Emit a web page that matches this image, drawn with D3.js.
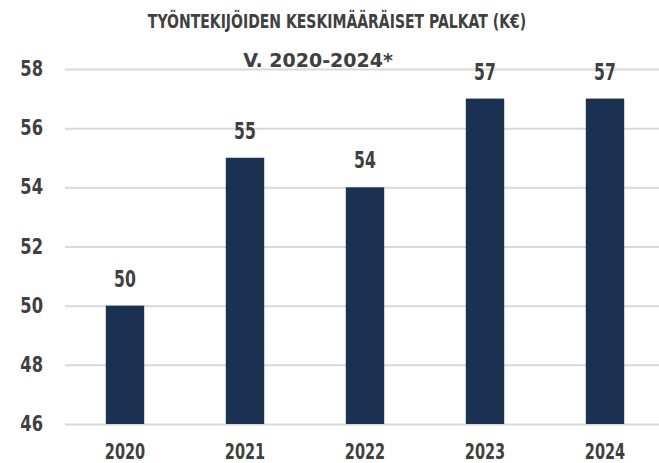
<!DOCTYPE html>
<html>
<head>
<meta charset="utf-8">
<script src="https://cdn.jsdelivr.net/npm/d3@7"></script>
<style>
  body { margin: 0; background: #fff; }
  text { font-family: "DejaVu Sans", sans-serif; font-weight: bold; fill: #404040; }
</style>
</head>
<body>
<div id="chart"></div>
<script>
const years = ['2020', '2021', '2022', '2023', '2024'];
const salaries = [50, 55, 54, 57, 57];
const yTicks = [46, 48, 50, 52, 54, 56, 58];
const titleLines = ['TYÖNTEKIJÖIDEN KESKIMÄÄRÄISET PALKAT (K€)', 'V. 2020-2024*'];

const width = 659, height = 463;
const barColor = '#1b3151',
    gridColor = '#d9d9d9';

const svg = d3.select('#chart')
    .append('svg')
    .attr('width', width)
    .attr('height', height);

const x = d3.scaleBand()
    .domain(years)
    .range([65, 665])
    .paddingInner(0.68)
    .paddingOuter(0.34);

const y = d3.scaleLinear()
    .domain([46, 58])
    .range([424, 69]);

// squeeze a label horizontally, the original uses a tall condensed face
function narrow(sel, k) {
    sel.each(function () {
        const len = this.getComputedTextLength();
        d3.select(this)
            .attr('textLength', len * k)
            .attr('lengthAdjust', 'spacingAndGlyphs');
    });
}

// gridlines + y labels
const axisY = d3.axisLeft(y).tickValues(yTicks).tickSize(-(width - 65)).tickPadding(22);
const yAxisWrapper = svg.append('g')
    .attr('transform', 'translate(65,0)')
    .call(axisY);
yAxisWrapper.select('.domain').remove();
yAxisWrapper.selectAll('.tick line')
    .attr('stroke', gridColor)
    .attr('stroke-width', 2);
yAxisWrapper.selectAll('.tick text')
    .attr('font-size', 22)
    .attr('dy', '0.3em')
    .style('fill', '#404040')
    .call(narrow, 0.74);

// bars
svg.selectAll('.bar')
    .data(years)
    .enter()
    .append('rect')
    .attr('class', 'bar')
    .attr('x', d => x(d))
    .attr('width', x.bandwidth())
    .attr('y', (d, i) => y(salaries[i]))
    .attr('height', (d, i) => y(46) - y(salaries[i]))
    .attr('fill', barColor);

// value labels
svg.selectAll('.val')
    .data(years)
    .enter()
    .append('text')
    .attr('class', 'val')
    .attr('x', d => x(d) + x.bandwidth() / 2)
    .attr('y', (d, i) => y(salaries[i]) - 19)
    .attr('text-anchor', 'middle')
    .attr('font-size', 23)
    .text((d, i) => salaries[i])
    .call(narrow, 0.68);

// x labels
const axisX = d3.axisBottom(x).tickSize(0).tickPadding(0);
const xAxisWrapper = svg.append('g')
    .call(axisX);
xAxisWrapper.select('.domain').remove();
xAxisWrapper.selectAll('.tick text')
    .attr('y', 459)
    .attr('dy', 0)
    .attr('font-size', 22)
    .style('fill', '#404040')
    .call(narrow, 0.66);

// title
svg.append('text')
    .attr('x', 337)
    .attr('y', 28)
    .attr('text-anchor', 'middle')
    .attr('font-size', 20)
    .text(titleLines[0])
    .call(narrow, 0.7);
svg.append('text')
    .attr('x', 318)
    .attr('y', 67)
    .attr('text-anchor', 'middle')
    .attr('font-size', 20)
    .text(titleLines[1])
    .call(narrow, 0.95);
</script>
</body>
</html>
